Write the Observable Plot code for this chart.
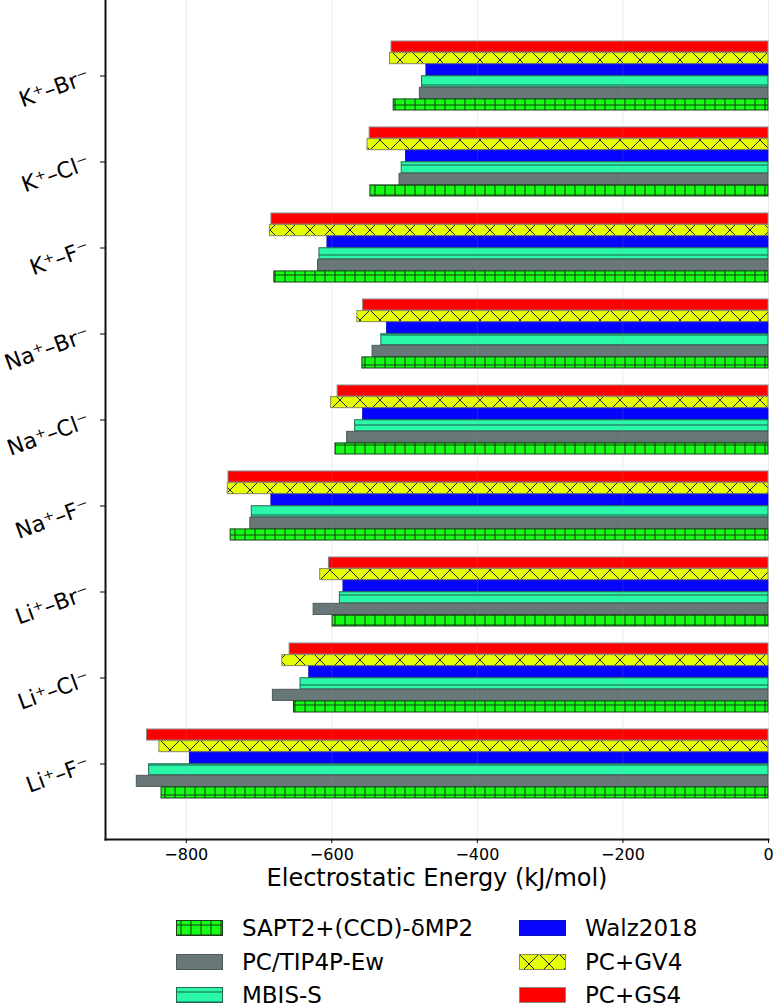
<!DOCTYPE html>
<html>
<head>
<meta charset="utf-8">
<script src="https://cdn.jsdelivr.net/npm/d3@7"></script>
<script src="https://cdn.jsdelivr.net/npm/@observablehq/plot@0.6"></script>
<style>
  html, body { margin: 0; padding: 0; background: #fff; overflow: hidden; }
  body { font-family: "DejaVu Sans", sans-serif; }
  #wrap { position: relative; width: 773px; height: 1005px; }
  #chart svg { display: block; }
  .legend-item { position: absolute; display: flex; align-items: center; height: 34px; font-size: 23px; color: #000; white-space: nowrap; }
  .legend-item svg { margin-right: 19px; display: block; }
</style>
</head>
<body>
<div id="wrap"><div id="chart"></div></div>
<script>
// ---------- data ----------
const categories = ["K⁺–Br⁻", "K⁺–Cl⁻", "K⁺–F⁻", "Na⁺–Br⁻", "Na⁺–Cl⁻", "Na⁺–F⁻", "Li⁺–Br⁻", "Li⁺–Cl⁻", "Li⁺–F⁻"];
const series = ["SAPT2+(CCD)-δMP2", "PC/TIP4P-Ew", "MBIS-S", "Walz2018", "PC+GV4", "PC+GS4"];
const sapt    = [-515, -547, -679, -558, -595, -739, -599, -652, -834];
const pcTip4p = [-479, -507, -619, -544, -579, -712, -625, -681, -868];
const mbis    = [-476, -504, -617, -532, -568, -710, -589, -643, -851];
const walz    = [-470, -498, -606, -524, -557, -683, -584, -631, -795];
const gv4     = [-520, -551, -685, -565, -601, -743, -616, -668, -837];
const gs4     = [-518, -548, -683, -557, -592, -742, -604, -658, -854];
const xTicks = [-800, -600, -400, -200, 0];
const xLabel = "Electrostatic Energy (kJ/mol)";

const seriesValues = [sapt, pcTip4p, mbis, walz, gv4, gs4];
const rows = categories.flatMap((c, i) => series.map((s, j) => ({cat: c, series: s, value: seriesValues[j][i]})));

// ---------- styles ----------
const style = {
  "SAPT2+(CCD)-δMP2": {fill: "url(#pat-sapt)", stroke: "#1a3d1a"},
  "PC/TIP4P-Ew":      {fill: "#687777", stroke: "#4d5959"},
  "MBIS-S":           {fill: "url(#pat-mbis)", stroke: "#1d6b50"},
  "Walz2018":         {fill: "#0505ff", stroke: "#1010c0"},
  "PC+GV4":           {fill: "url(#pat-gv4)", stroke: "#8a8a5a"},
  "PC+GS4":           {fill: "#ff0000", stroke: "#8a8a8a"}
};

// layout
const W = 773, H = 900, ML = 105, MR = 5, MT = 0, MB = 61;
const padInner = 0.2, padOuter = 0.429;
// each category band is split evenly among the series (top: last series)
const step = (H - MT - MB) / (categories.length - padInner + 2 * padOuter);
const band = step * (1 - padInner);
const sub = band / series.length;

// hatch patterns (global user space, like matplotlib hatching)
function defsMark() {
  const g = d3.create("svg:g");
  const defs = g.append("defs");
  const p1 = defs.append("pattern").attr("id", "pat-sapt").attr("patternUnits", "userSpaceOnUse")
    .attr("width", 10).attr("height", 10);
  p1.append("rect").attr("width", 10).attr("height", 10).attr("fill", "#14ff14");
  p1.append("path").attr("d", "M5,0V10M0,5H10").attr("stroke", "#1a3d1a").attr("stroke-width", 1.1).attr("fill", "none");

  const p2 = defs.append("pattern").attr("id", "pat-mbis").attr("patternUnits", "userSpaceOnUse")
    .attr("width", 10).attr("height", 10);
  p2.append("rect").attr("width", 10).attr("height", 10).attr("fill", "#2bf7a9");
  p2.append("path").attr("d", "M0,5H10").attr("stroke", "#1d6b50").attr("stroke-width", 1.1).attr("fill", "none");

  const p3 = defs.append("pattern").attr("id", "pat-gv4").attr("patternUnits", "userSpaceOnUse")
    .attr("width", 20).attr("height", 20);
  p3.append("rect").attr("width", 20).attr("height", 20).attr("fill", "#e6ff00");
  p3.append("path").attr("d", "M0,0L20,20M20,0L0,20").attr("stroke", "#222").attr("stroke-width", 1).attr("fill", "none");
  return g.node();
}

const topOrder = series.slice().reverse();
const barMarks = topOrder.map((s, k) => Plot.barX(rows.filter(d => d.series === s), {
  x: "value", y: "cat",
  insetTop: k * sub, insetBottom: (series.length - 1 - k) * sub,
  fill: style[s].fill, stroke: style[s].stroke, strokeWidth: 1
}));

const chart = Plot.plot({
  width: W,
  height: H,
  marginLeft: ML,
  marginRight: MR,
  marginTop: MT,
  marginBottom: MB,
  style: {fontFamily: "DejaVu Sans, sans-serif", background: "#fff", color: "#000"},
  x: {domain: [-911, 0]},
  y: {domain: categories, paddingInner: padInner, paddingOuter: padOuter, label: null},
  marks: [
    defsMark,
    ...barMarks,
    Plot.gridX(xTicks, {stroke: "#999", strokeOpacity: 0.2}),
    Plot.axisX({ticks: xTicks, tickSize: 4, fontSize: 16, label: null}),
    Plot.text([xLabel], {frameAnchor: "bottom", lineAnchor: "top", dy: 29, fontSize: 24, fill: "#000"}),
    Plot.axisY({anchor: "left", tickRotate: -20, fontSize: 22, tickSize: 5, tickPadding: 12, label: null}),
    Plot.frame({anchor: "left", stroke: "#111", strokeWidth: 2}),
    Plot.frame({anchor: "bottom", stroke: "#111", strokeWidth: 2})
  ]
});
document.getElementById("chart").appendChild(chart);

// ---------- legend ----------
const wrap = document.getElementById("wrap");
const legendCols = [176, 519];
const legendRowTop = 911;
const legendRowStep = 33.5;
series.forEach((s, i) => {
  const col = Math.floor(i / 3), row = i % 3;
  const item = document.createElement("div");
  item.className = "legend-item";
  item.style.left = legendCols[col] + "px";
  item.style.top = (legendRowTop + row * legendRowStep) + "px";
  const sw = d3.create("svg").attr("width", 47).attr("height", 16);
  sw.append("rect").attr("x", 0.5).attr("y", 0.5).attr("width", 46).attr("height", 15)
    .attr("fill", style[s].fill).attr("stroke", style[s].stroke).attr("stroke-width", 1);
  item.appendChild(sw.node());
  const t = document.createElement("span");
  t.textContent = s;
  item.appendChild(t);
  wrap.appendChild(item);
});
</script>
</body>
</html>
